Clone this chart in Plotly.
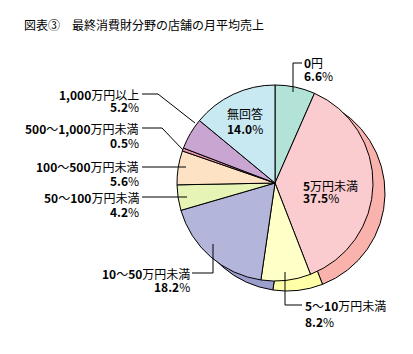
import plotly.graph_objects as go

W, H = 413, 354

categories = ["0円", "5万円未満", "5～10万円未満", "10～50万円未満", "50～100万円未満",
              "100～500万円未満", "500～1,000万円未満", "1,000万円以上", "無回答"]
values = [6.6, 37.5, 8.2, 18.2, 4.2, 5.6, 0.5, 5.2, 14.0]
name_html = ["<b>0</b>円", "<b>5</b>万円未満", "<b>5</b>～<b>10</b>万円未満", "<b>10</b>～<b>50</b>万円未満",
             "<b>50</b>～<b>100</b>万円未満", "<b>100</b>～<b>500</b>万円未満",
             "<b>500</b>～<b>1,000</b>万円未満", "<b>1,000</b>万円以上", "無回答"]
colors = ["#B3E3D6", "#FACCCF", "#FFFFC8", "#B3B5DA", "#E6F5B6",
          "#FDE3C3", "#E898B0", "#C9A6D1", "#C9E9F2"]
shadow_colors = ["#8FC8BA", "#F9B3AC", "#FFFFA8", "#9C9ECC", "#CCE09A",
                 "#EEC8A0", "#D07090", "#AE88B8", "#A8D0DC"]
title = "図表③　最終消費財分野の店舗の月平均売上"


def X(px):
    return px / W


def Y(py):
    return 1 - py / H


# pie geometry (pixels)
cx, cy, r = 275, 183, 98
dx, dy = 12, 10

fig = go.Figure()
fig.add_trace(go.Pie(
    labels=categories, values=values, sort=False, direction="clockwise", rotation=0,
    marker=dict(colors=shadow_colors, line=dict(color="black", width=1)),
    textinfo="none", hoverinfo="skip", showlegend=False,
    domain=dict(x=[X(cx - r + dx), X(cx + r + dx)], y=[Y(cy + r + dy), Y(cy - r + dy)]),
))
fig.add_trace(go.Pie(
    labels=categories, values=values, sort=False, direction="clockwise", rotation=0,
    marker=dict(colors=colors, line=dict(color="black", width=1)),
    textinfo="none", hoverinfo="skip", showlegend=False,
    domain=dict(x=[X(cx - r), X(cx + r)], y=[Y(cy + r), Y(cy - r)]),
))

font = dict(family="Noto Sans CJK JP", size=12, color="black")
annotations = []


def label(i, x, y1, y2, anchor):
    annotations.append(dict(x=X(x), y=Y(y1), xref="paper", yref="paper", text=name_html[i],
                            showarrow=False, xanchor=anchor, yanchor="middle", font=font,
                            borderpad=0))
    annotations.append(dict(x=X(x), y=Y(y2), xref="paper", yref="paper",
                            text="<b>%.1f</b>%%" % values[i],
                            showarrow=False, xanchor=anchor, yanchor="middle", font=font,
                            borderpad=0))


# label placements (pixel): index, x, y_name, y_pct, anchor
label(0, 303, 63, 75, "left")
label(1, 302, 185, 197, "left")
label(2, 304, 305, 321, "left")
label(3, 191, 273, 286, "right")
label(4, 140, 197, 211, "right")
label(5, 140, 167, 180, "right")
label(6, 140, 128, 142, "right")
label(7, 140, 94, 106, "right")
label(8, 226, 113, 128, "left")

annotations.append(dict(x=X(22), y=Y(24), xref="paper", yref="paper", text=title,
                        showarrow=False, xanchor="left", yanchor="middle",
                        font=dict(family="Noto Sans CJK JP", size=12, color="black")))

leaders = [
    [(293, 92), (293, 63), (302, 63)],
    [(285, 272), (285, 305), (302, 305)],
    [(213, 244), (213, 273), (192, 273)],
    [(142, 197), (187, 197)],
    [(142, 167), (186, 167)],
    [(142, 128), (162, 128), (183, 150)],
    [(142, 94), (158, 94), (195, 123)],
]
shapes = []
for pts in leaders:
    for (x0, y0), (x1, y1) in zip(pts[:-1], pts[1:]):
        shapes.append(dict(type="line", xref="paper", yref="paper",
                           x0=X(x0), y0=Y(y0), x1=X(x1), y1=Y(y1),
                           line=dict(color="black", width=1)))

fig.update_layout(
    width=W, height=H, autosize=False,
    margin=dict(l=0, r=0, t=0, b=0),
    paper_bgcolor="white", plot_bgcolor="white",
    annotations=annotations, shapes=shapes,
    showlegend=False,
)
fig.write_html("out.html")
